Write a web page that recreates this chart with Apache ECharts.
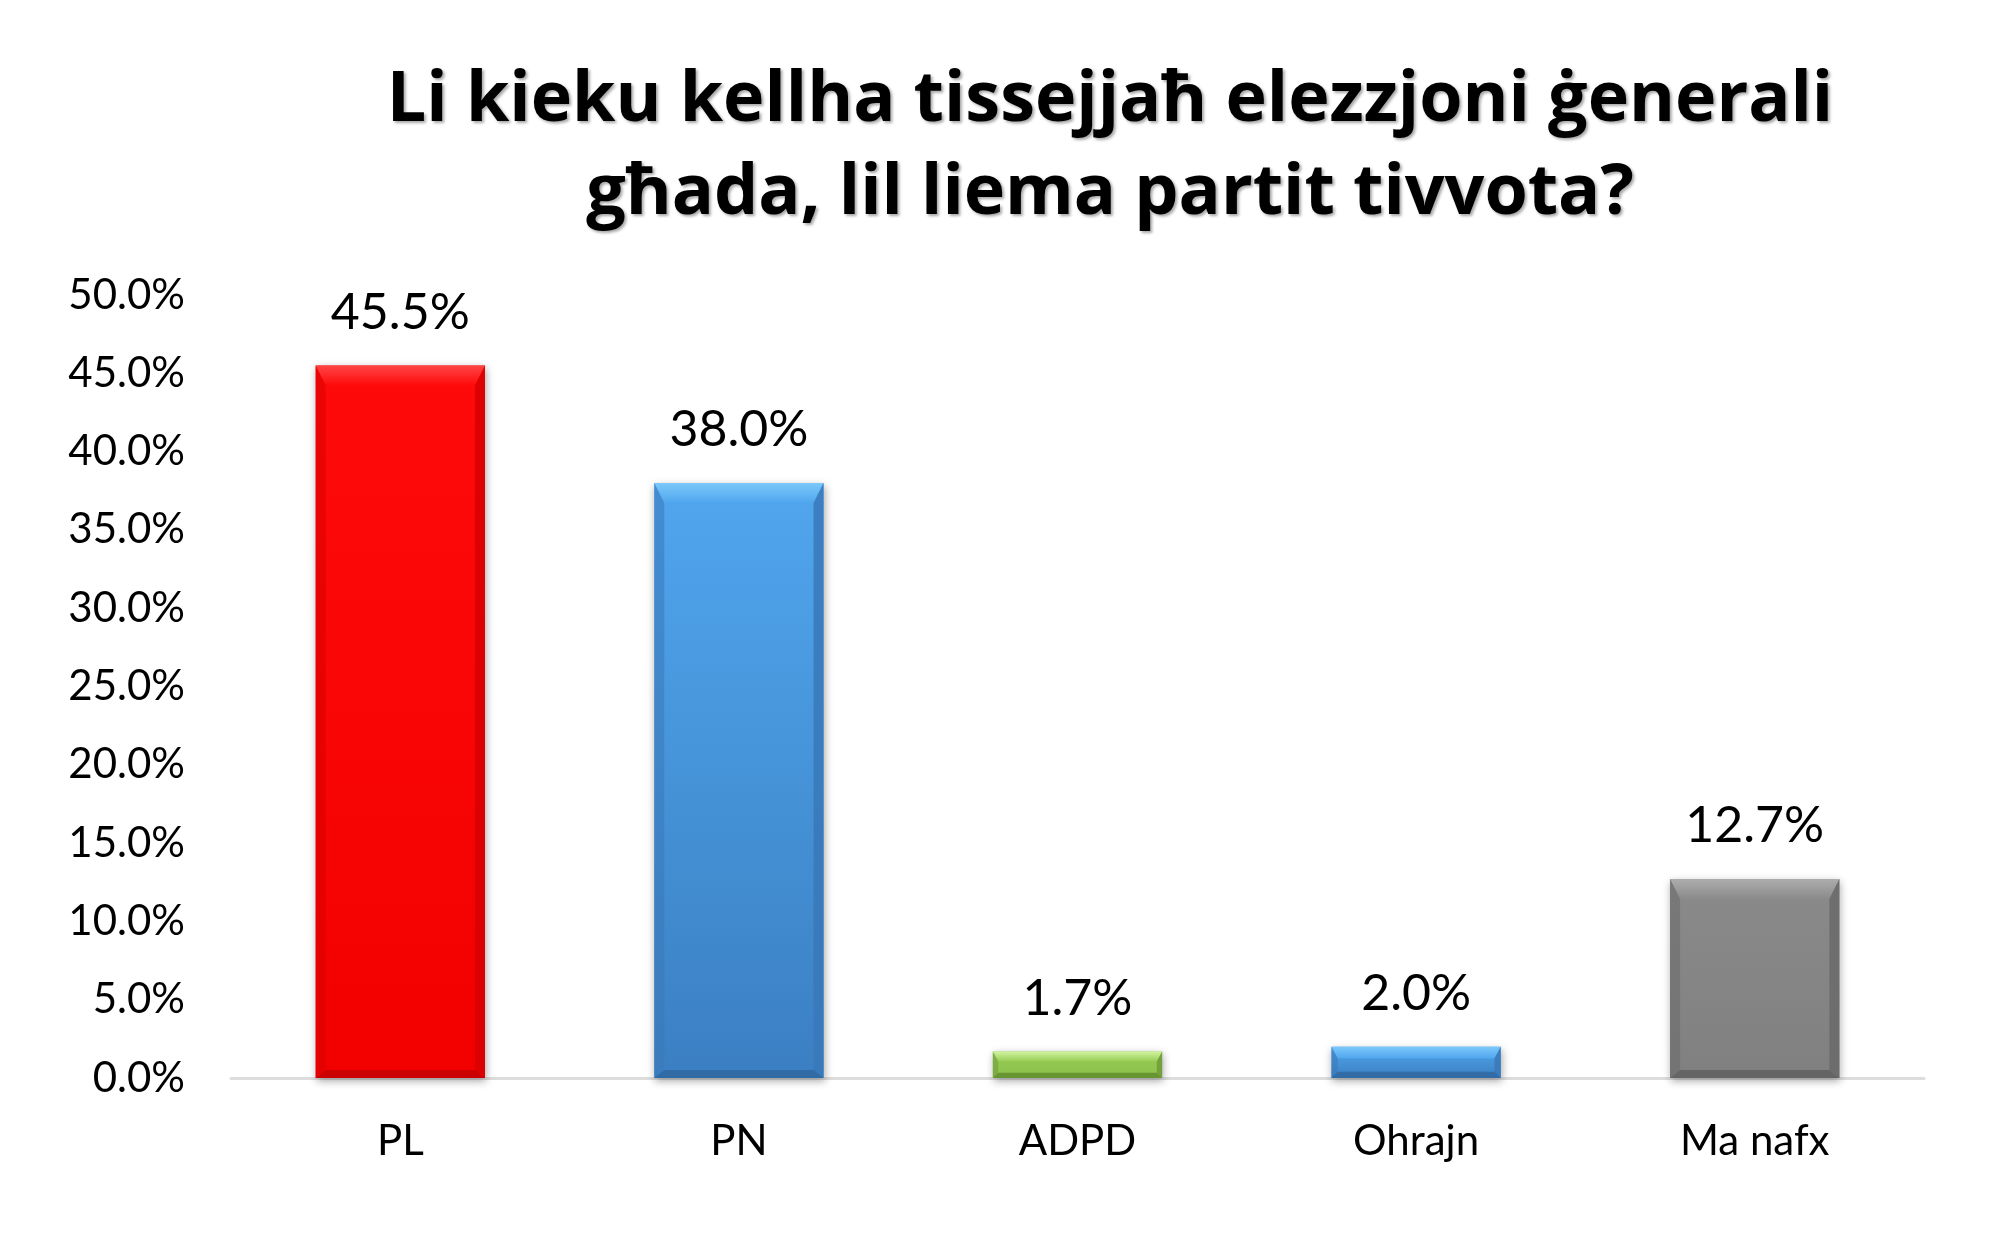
<!DOCTYPE html>
<html>
<head>
<meta charset="utf-8">
<script src="https://cdn.jsdelivr.net/npm/echarts@6/dist/echarts.min.js"></script>
<style>
html,body{margin:0;padding:0;background:#fff;}
#chart{width:2000px;height:1260px;}
</style>
</head>
<body>
<div id="chart"></div>
<script>
const titleLines = ['Li kieku kellha tissejjaħ elezzjoni ġenerali', 'għada, lil liema partit tivvota?'];
const categories = ['PL', 'PN', 'ADPD', 'Ohrajn', 'Ma nafx'];
const values = [45.5, 38.0, 1.7, 2.0, 12.7];
const yMin = 0, yMax = 50, yStep = 5;

// style palette (per bar): [main top, main bottom, bevel light, side dark, bottom dark]
const palette = [
  ['#FF0A0A', '#F20000', '#FF4545', '#D80000', '#C00000'],
  ['#50A6EE', '#3B7FC2', '#7CC8FA', '#3A78B8', '#2F679F'],
  ['#96CC55', '#8CC04C', '#D2F5A0', '#6E9A38', '#5E8A2C'],
  ['#50A6EE', '#3B7FC2', '#7CC8FA', '#3A78B8', '#2F679F'],
  ['#8A8A8A', '#808080', '#ADADAD', '#6A6A6A', '#5E5E5E']
];

const chart = echarts.init(document.getElementById('chart'), null, {renderer: 'canvas'});
const FONT = 'Lato';
const TITLE_FONT = 'bold 70px "Open Sans"';

const option = {
  backgroundColor: '#ffffff',
  animation: false,
  graphic: [
    {type: 'text', x: 1110, y: 101, silent: true,
     style: {text: titleLines[0], font: TITLE_FONT, fill: '#000', align: 'center', verticalAlign: 'middle',
             textShadowColor: 'rgba(0,0,0,0.35)', textShadowBlur: 3, textShadowOffsetX: 2, textShadowOffsetY: 2}},
    {type: 'text', x: 1110, y: 194, silent: true,
     style: {text: titleLines[1], font: TITLE_FONT, fill: '#000', align: 'center', verticalAlign: 'middle',
             textShadowColor: 'rgba(0,0,0,0.35)', textShadowBlur: 3, textShadowOffsetX: 2, textShadowOffsetY: 2}}
  ],
  grid: {left: 231, right: 76, top: 295, bottom: 182, containLabel: false},
  xAxis: {
    type: 'category',
    data: categories,
    axisLine: {show: true, lineStyle: {color: '#DDDDDD', width: 3}},
    axisTick: {show: false},
    axisLabel: {color: '#000', fontFamily: FONT, fontSize: 42, margin: 42}
  },
  yAxis: {
    type: 'value',
    min: yMin, max: yMax, interval: yStep,
    splitLine: {show: false},
    axisLine: {show: false},
    axisTick: {show: false},
    axisLabel: {color: '#000', fontFamily: FONT, fontSize: 42, margin: 46,
      formatter: v => v.toFixed(1) + '%'}
  },
  series: [
    {
      type: 'bar',
      data: values.map((v, i) => ({
        value: v,
        itemStyle: {
          color: new echarts.graphic.LinearGradient(0, 0, 0, 1, [
            {offset: 0, color: palette[i][0]}, {offset: 1, color: palette[i][1]}
          ]),
          shadowColor: 'rgba(0,0,0,0.35)', shadowBlur: 8, shadowOffsetX: 1, shadowOffsetY: 3
        }
      })),
      barWidth: '50%',
      label: {show: true, position: 'top', distance: 28, color: '#000', fontFamily: FONT, fontSize: 50,
        formatter: p => p.value.toFixed(1) + '%'}
    },
    {
      type: 'custom',
      silent: true,
      z: 3,
      data: values.map((v, i) => [i, v]),
      renderItem: function (params, api) {
        const i = api.value(0);
        const top = api.coord([i, api.value(1)]);
        const base = api.coord([i, 0]);
        const w = api.size([1, 0])[0] * 0.5;
        const l = top[0] - w / 2, r = top[0] + w / 2, t = top[1], b = base[1];
        const h = b - t;
        const tb = Math.min(20, h * 0.38);
        const sb = Math.min(10, h * 0.2);
        const bb = Math.min(8, h * 0.2);
        const c = palette[params.dataIndex];
        return {
          type: 'group',
          children: [
            {type: 'polygon', shape: {points: [[l, t], [r, t], [r - sb, t + tb], [l + sb, t + tb]]},
             style: {fill: new echarts.graphic.LinearGradient(0, 0, 0, 1, [
               {offset: 0, color: c[2]}, {offset: 1, color: c[0]}])}},
            {type: 'polygon', shape: {points: [[l, t], [l + sb, t + tb], [l + sb, b - bb], [l, b]]},
             style: {fill: c[3], opacity: 0.55}},
            {type: 'polygon', shape: {points: [[r, t], [r - sb, t + tb], [r - sb, b - bb], [r, b]]},
             style: {fill: c[3], opacity: 0.85}},
            {type: 'polygon', shape: {points: [[l, b], [l + sb, b - bb], [r - sb, b - bb], [r, b]]},
             style: {fill: c[4], opacity: 0.8}}
          ]
        };
      }
    }
  ]
};
chart.setOption(option);
</script>
</body>
</html>
